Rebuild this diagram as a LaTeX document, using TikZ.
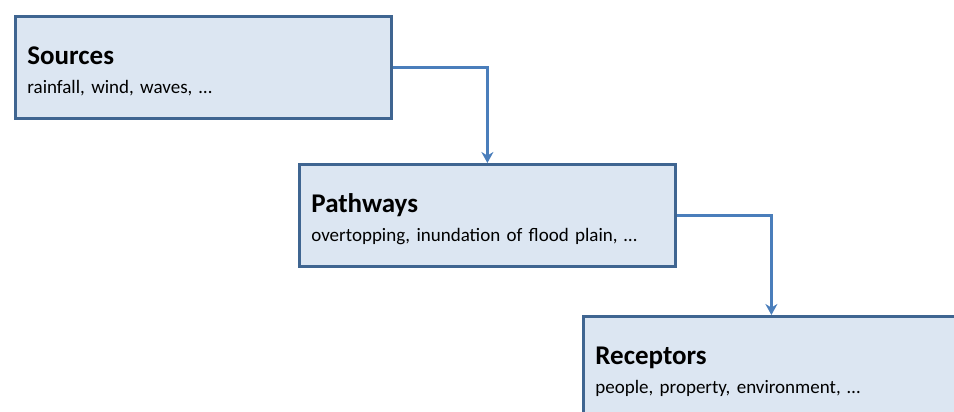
\documentclass[tikz,border=0pt]{standalone}
\usepackage{fontspec}
\setmainfont{Carlito}
\usepackage{tikz}
\usetikzlibrary{arrows.meta}
\definecolor{boxfill}{HTML}{DCE6F2}
\definecolor{boxline}{HTML}{3F6591}
\definecolor{arrowblue}{HTML}{4A7EBB}
\frenchspacing

\begin{document}
\begin{tikzpicture}[x=1pt,y=-1pt,
    stage/.style={draw=boxline, fill=boxfill, line width=2.8pt, align=left, text width=352pt,
        minimum height=102pt, inner xsep=12pt, text height=26pt, anchor=north west,
        font=\fontsize{19}{29}\selectfont},
    flow/.style={draw=arrowblue, line width=2.5pt, -{Stealth[length=11pt,width=12pt]}}]
    \useasboundingbox (0,0) rectangle (954,412);
    \clip (0,0) rectangle (954,412);
    \node[stage] (sources) at (14,15) {{\fontsize{27}{29}\selectfont\bfseries Sources}\\ rainfall, wind, waves, \dots};
    \node[stage] (pathways) at (298,163) {{\fontsize{27}{29}\selectfont\bfseries Pathways}\\ overtopping, inundation of flood plain, \dots};
    \node[stage] (receptors) at (582,315) {{\fontsize{27}{29}\selectfont\bfseries Receptors}\\ people, property, environment, \dots};
    \draw[flow] (sources.east) -| (pathways.north);
    \draw[flow] (pathways.east) -| (receptors.north);
\end{tikzpicture}
\end{document}
